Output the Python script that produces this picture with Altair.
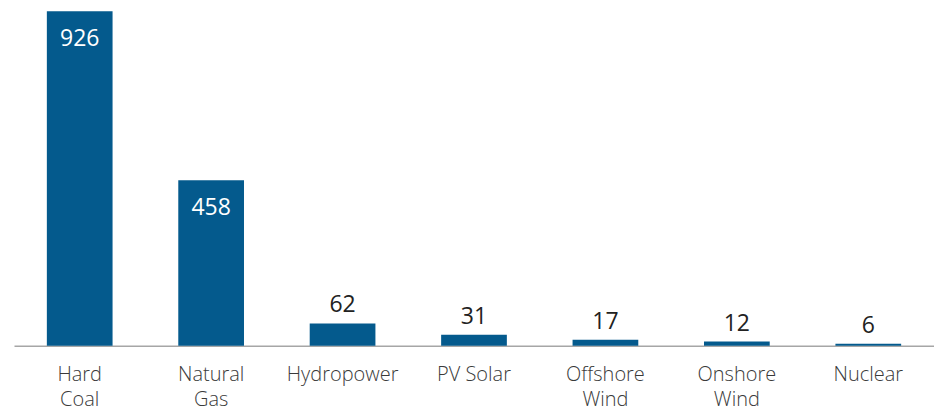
import altair as alt
import pandas as pd

categories = ["Hard Coal", "Natural Gas", "Hydropower", "PV Solar", "Offshore Wind", "Onshore Wind", "Nuclear"]
values = [926, 458, 62, 31, 17, 12, 6]

df = pd.DataFrame({"source": categories, "value": values})

BAR = "#045a8d"
FONT = "Open Sans"

x = alt.X("source:N", sort=categories, title=None,
          scale=alt.Scale(paddingInner=0.5, paddingOuter=0.25),
          axis=alt.Axis(labelAngle=0, ticks=False, domainColor="#a6a6a6", domainWidth=1.5,
                        labelFont=FONT, labelFontSize=20, labelFontWeight=300, labelColor="#3a3a3a",
                        labelPadding=19, labelLineHeight=25, labelBaseline="top",
                        labelExpr="datum.label == 'PV Solar' ? datum.label : split(datum.label, ' ')"))
y = alt.Y("value:Q", title=None, scale=alt.Scale(domain=[0, 926], nice=False), axis=None)

base = alt.Chart(df).encode(x=x, y=y)
bars = base.mark_bar(color=BAR)
inside = base.transform_filter("datum.value > 100").mark_text(
    font=FONT, fontSize=23, fontWeight=400, color="white", baseline="alphabetic", dy=35).encode(text="value:Q")
outside = base.transform_filter("datum.value <= 100").mark_text(
    font=FONT, fontSize=23, fontWeight=400, color="#222222", baseline="alphabetic", dy=-11).encode(text="value:Q")

chart = (bars + inside + outside).properties(
    width=921, height=335,
    autosize=alt.AutoSizeParams(type="none"),
    padding={"left": 6, "top": 3, "right": 0, "bottom": 70},
).configure_view(stroke=None)

chart.save("out.html", embed_options={"renderer": "svg", "actions": False})
